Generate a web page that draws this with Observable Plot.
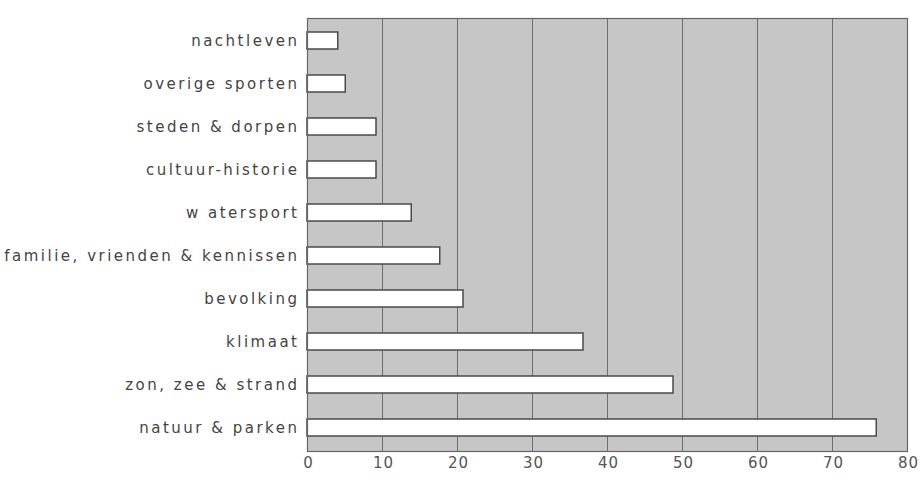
<!DOCTYPE html>
<html>
<head>
<meta charset="utf-8">
<script src="https://cdn.jsdelivr.net/npm/d3@7"></script>
<script src="https://cdn.jsdelivr.net/npm/@observablehq/plot@0.6"></script>
<style>
  html, body { margin: 0; padding: 0; background: #fff; }
  #chart svg { display: block; }
  #chart svg g[aria-label="y-axis tick label"] text { letter-spacing: 2.5px; }
  #chart svg g[aria-label="x-axis tick label"] text { letter-spacing: 1px; }
</style>
</head>
<body>
<div id="chart"></div>
<script>
const categories = [
  "nachtleven",
  "overige sporten",
  "steden & dorpen",
  "cultuur-historie",
  "w atersport",
  "familie, vrienden & kennissen",
  "bevolking",
  "klimaat",
  "zon, zee & strand",
  "natuur & parken"
];
const values = [4.1, 5.1, 9.2, 9.2, 13.9, 17.7, 20.8, 36.8, 48.8, 75.9];
const xTicks = [0, 10, 20, 30, 40, 50, 60, 70, 80];

const data = categories.map((c, i) => ({category: c, value: values[i]}));

const chart = Plot.plot({
  width: 921,
  height: 490,
  marginLeft: 307,
  marginRight: 14,
  marginTop: 18,
  marginBottom: 39,
  style: {fontFamily: "DejaVu Sans, sans-serif", fontSize: "15px", color: "#444", background: "#fff"},
  x: {domain: [0, 80], label: null},
  y: {domain: categories, label: null, paddingInner: 0.6, paddingOuter: 0.3},
  marks: [
    Plot.frame({fill: "#c6c6c6", stroke: "none"}),
    Plot.ruleX(xTicks.slice(1, -1), {stroke: "#6e6e6e", strokeWidth: 1}),
    Plot.barX(data, {x: "value", y: "category", fill: "#fff", stroke: "#4a4a4a", strokeWidth: 1.5}),
    Plot.frame({stroke: "#666", strokeWidth: 1.2}),
    Plot.axisX({ticks: xTicks, tickSize: 0, tickPadding: 6, label: null, color: "#555", fontSize: 15, dx: 1}),
    Plot.axisY({tickSize: 0, tickPadding: 8, label: null, color: "#444", fontSize: 15})
  ]
});
document.getElementById("chart").appendChild(chart);
</script>
</body>
</html>
